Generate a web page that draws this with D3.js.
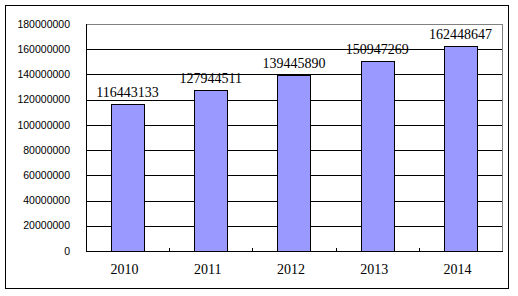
<!DOCTYPE html>
<html>
<head>
<meta charset="utf-8">
<script src="https://cdn.jsdelivr.net/npm/d3@7"></script>
<style>
  body { margin: 0; background: #fff; }
  svg { display: block; }
</style>
</head>
<body>
<div id="chart"></div>
<script>
const years = ["2010", "2011", "2012", "2013", "2014"];
const values = [116443133, 127944511, 139445890, 150947269, 162448647];
const yTicks = [0, 20000000, 40000000, 60000000, 80000000, 100000000, 120000000, 140000000, 160000000, 180000000];

function buildChart() {
  const W = 518, H = 296;
  const margin = { top: 24, right: 16, bottom: 45, left: 86 };
  const width = W - margin.left - margin.right;
  const height = H - margin.top - margin.bottom;

  const svg = d3.select("#chart").append("svg")
    .attr("width", W)
    .attr("height", H);

  // outer frame
  svg.append("rect")
    .attr("x", 5.5).attr("y", 5.5)
    .attr("width", 503).attr("height", 283)
    .attr("fill", "#fff")
    .attr("stroke", "#000");

  const g = svg.append("g")
    .attr("transform", `translate(${margin.left},${margin.top})`);

  const x = d3.scaleBand()
    .domain(years)
    .range([0, width])
    .padding(0);

  const y = d3.scaleLinear()
    .domain([0, 180000000])
    .range([height, 0]);

  // plot area border (gray top/right)
  g.append("rect")
    .attr("x", 0.5).attr("y", 0.5)
    .attr("width", width).attr("height", height)
    .attr("fill", "none")
    .attr("stroke", "#808080");

  // gridlines
  g.selectAll("line.grid")
    .data(yTicks.filter(d => d > 0 && d < 180000000))
    .join("line")
    .attr("class", "grid")
    .attr("x1", 0).attr("x2", width)
    .attr("y1", d => Math.round(y(d)) + 0.5)
    .attr("y2", d => Math.round(y(d)) + 0.5)
    .attr("stroke", "#000");

  // y labels
  g.selectAll("text.ylab")
    .data(yTicks)
    .join("text")
    .attr("class", "ylab")
    .attr("x", -16)
    .attr("y", d => y(d))
    .attr("dy", "0.35em")
    .attr("text-anchor", "end")
    .attr("font-family", "Liberation Sans, Arial, sans-serif")
    .attr("font-size", "10.5px")
    .attr("fill", "#000")
    .text(d => d);

  // bars
  const barW = x.bandwidth() * 0.4;
  g.selectAll("rect.bar")
    .data(values)
    .join("rect")
    .attr("class", "bar")
    .attr("x", (d, i) => Math.round(x(years[i]) + (x.bandwidth() - barW) / 2) + 0.5)
    .attr("y", d => Math.round(y(d)) + 0.5)
    .attr("width", Math.round(barW))
    .attr("height", d => Math.round(height - y(d)))
    .attr("fill", "#9999FF")
    .attr("stroke", "#000");

  // data labels
  g.selectAll("text.val")
    .data(values)
    .join("text")
    .attr("class", "val")
    .attr("x", (d, i) => x(years[i]) + x.bandwidth() / 2)
    .attr("y", d => y(d) - 7)
    .attr("text-anchor", "middle")
    .attr("font-family", "Liberation Serif, serif")
    .attr("font-size", "14px")
    .attr("fill", "#000")
    .text(d => d);

  // axes lines
  g.append("line")
    .attr("x1", 0.5).attr("x2", 0.5)
    .attr("y1", 0).attr("y2", height + 0.5)
    .attr("stroke", "#000");
  g.append("line")
    .attr("x1", 0).attr("x2", width + 1)
    .attr("y1", height + 0.5).attr("y2", height + 0.5)
    .attr("stroke", "#000");

  // x ticks (inside, at category boundaries)
  g.selectAll("line.xtick")
    .data(years.slice(1))
    .join("line")
    .attr("class", "xtick")
    .attr("x1", d => Math.round(x(d)) + 0.5)
    .attr("x2", d => Math.round(x(d)) + 0.5)
    .attr("y1", height - 3).attr("y2", height)
    .attr("stroke", "#000");

  // x labels
  g.selectAll("text.xlab")
    .data(years)
    .join("text")
    .attr("class", "xlab")
    .attr("x", d => x(d) + x.bandwidth() / 2 - 3)
    .attr("y", height + 23)
    .attr("text-anchor", "middle")
    .attr("font-family", "Liberation Serif, serif")
    .attr("font-size", "14px")
    .attr("fill", "#000")
    .text(d => d);
}

window.onload = () => {
  buildChart();
};
</script>
</body>
</html>
